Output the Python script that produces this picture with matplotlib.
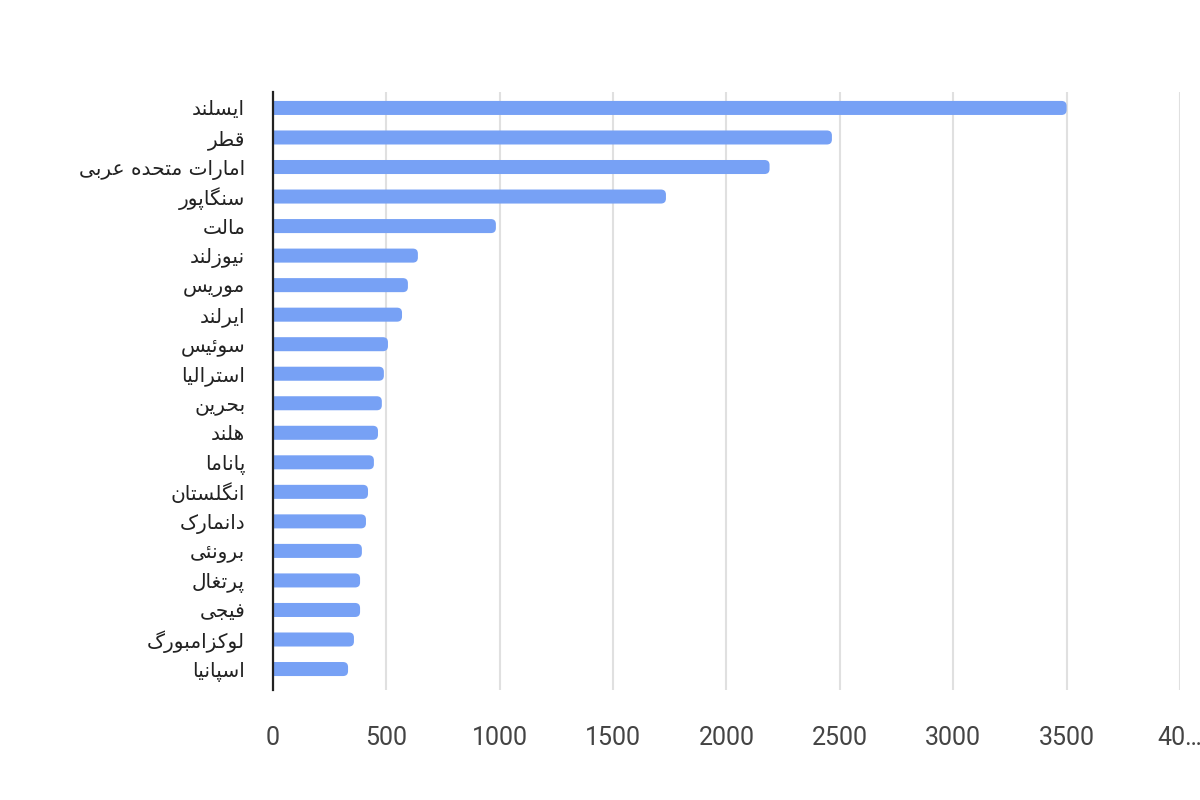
import matplotlib
matplotlib.use("Agg")
import matplotlib.pyplot as plt
from matplotlib.patches import FancyBboxPatch

# data
countries = ["ایسلند", "قطر", "امارات متحده عربی", "سنگاپور", "مالت",
             "نیوزلند", "موریس", "ایرلند", "سوئیس", "استرالیا",
             "بحرین", "هلند", "پاناما", "انگلستان", "دانمارک",
             "برونئی", "پرتغال", "فیجی", "لوکزامبورگ", "اسپانیا"]
values = [3500, 2465, 2190, 1733, 983,
          639, 595, 569, 507, 489,
          480, 463, 445, 419, 410,
          392, 384, 384, 357, 331]
x_ticks = [0, 500, 1000, 1500, 2000, 2500, 3000, 3500, 4000]
x_tick_labels = ["0", "500", "1000", "1500", "2000", "2500", "3000", "3500", "40…"]

# isolated, final, initial, medial (None -> letter does not join to the left)
FORMS = {
    "ا": ("\uFE8D", "\uFE8E", None, None),
    "د": ("\uFEA9", "\uFEAA", None, None),
    "ر": ("\uFEAD", "\uFEAE", None, None),
    "ز": ("\uFEAF", "\uFEB0", None, None),
    "و": ("\uFEED", "\uFEEE", None, None),
    "ب": ("\uFE8F", "\uFE90", "\uFE91", "\uFE92"),
    "پ": ("\uFB56", "\uFB57", "\uFB58", "\uFB59"),
    "ت": ("\uFE95", "\uFE96", "\uFE97", "\uFE98"),
    "ج": ("\uFE9D", "\uFE9E", "\uFE9F", "\uFEA0"),
    "ح": ("\uFEA1", "\uFEA2", "\uFEA3", "\uFEA4"),
    "س": ("\uFEB1", "\uFEB2", "\uFEB3", "\uFEB4"),
    "ط": ("\uFEC1", "\uFEC2", "\uFEC3", "\uFEC4"),
    "ع": ("\uFEC9", "\uFECA", "\uFECB", "\uFECC"),
    "غ": ("\uFECD", "\uFECE", "\uFECF", "\uFED0"),
    "ف": ("\uFED1", "\uFED2", "\uFED3", "\uFED4"),
    "ق": ("\uFED5", "\uFED6", "\uFED7", "\uFED8"),
    "ک": ("\uFB8E", "\uFB8F", "\uFB90", "\uFB91"),
    "گ": ("\uFB92", "\uFB93", "\uFB94", "\uFB95"),
    "ل": ("\uFEDD", "\uFEDE", "\uFEDF", "\uFEE0"),
    "م": ("\uFEE1", "\uFEE2", "\uFEE3", "\uFEE4"),
    "ن": ("\uFEE5", "\uFEE6", "\uFEE7", "\uFEE8"),
    "ه": ("\uFEE9", "\uFEEA", "\uFEEB", "\uFEEC"),
    "ی": ("\uFBFC", "\uFBFD", "\uFBFE", "\uFBFF"),
    "ئ": ("\uFE89", "\uFE8A", "\uFE8B", "\uFE8C"),
}


def shape(text):
    # matplotlib has no arabic shaping, so pick presentation forms by hand
    out = []
    for i, ch in enumerate(text):
        if ch not in FORMS:
            out.append(ch)
            continue
        iso, fin, ini, med = FORMS[ch]
        prev = text[i - 1] if i > 0 else ""
        nxt = text[i + 1] if i < len(text) - 1 else ""
        join_prev = prev in FORMS and FORMS[prev][2] is not None
        join_next = nxt in FORMS and ini is not None
        if join_prev and join_next:
            out.append(med)
        elif join_prev:
            out.append(fin)
        elif join_next:
            out.append(ini)
        else:
            out.append(iso)
    return "".join(reversed(out))


bar_color = "#77a1f5"
text_color = "#444444"

left, right, bottom, top = 0.2275, 0.9833, 0.1375, 0.885
fig = plt.figure(figsize=(12, 8), dpi=100)
ax = fig.add_axes([left, bottom, right - left, top - bottom])

ypos = list(range(len(countries)))
y_lo, y_hi = -0.54, 19.71
bar_h = 0.475
bars = ax.barh(ypos, values, height=bar_h, color=bar_color)

# swap rectangles for round-ended ones (left end hidden behind the axis)
px_x = 4000 / ((right - left) * 1200)
px_y = (y_hi - y_lo) / ((top - bottom) * 800)
for b in bars:
    b.set_visible(False)
    x0, y0 = b.get_x(), b.get_y()
    w, h = b.get_width(), b.get_height()
    p = FancyBboxPatch((x0 - 40, y0), w + 40, h,
                       boxstyle="round,pad=0,rounding_size=%f" % (5 * px_x),
                       mutation_aspect=px_y / px_x,
                       facecolor=bar_color, edgecolor="none", zorder=2)
    ax.add_patch(p)

ax.set_xlim(0, 4000)
ax.set_ylim(y_hi, y_lo)

ax.set_xticks(x_ticks)
ax.set_xticklabels(x_tick_labels, fontsize=18, color=text_color,
                   family=["Roboto", "DejaVu Sans"])
ax.set_yticks(ypos)
ax.set_yticklabels([shape(c) for c in countries], fontsize=14.5,
                   color="#222222", family=["DejaVu Sans"])
ax.tick_params(axis="x", length=0, pad=26)
ax.tick_params(axis="y", length=0, pad=20)

ax.grid(axis="x", color="#e0e0e0", linewidth=1.5, zorder=0)
ax.set_axisbelow(True)
for s in ["top", "right", "bottom"]:
    ax.spines[s].set_visible(False)
ax.spines["left"].set_color("#222222")
ax.spines["left"].set_linewidth(1.6)
ax.spines["left"].set_zorder(3)

fig.savefig("out.png", dpi=100, facecolor="white")
